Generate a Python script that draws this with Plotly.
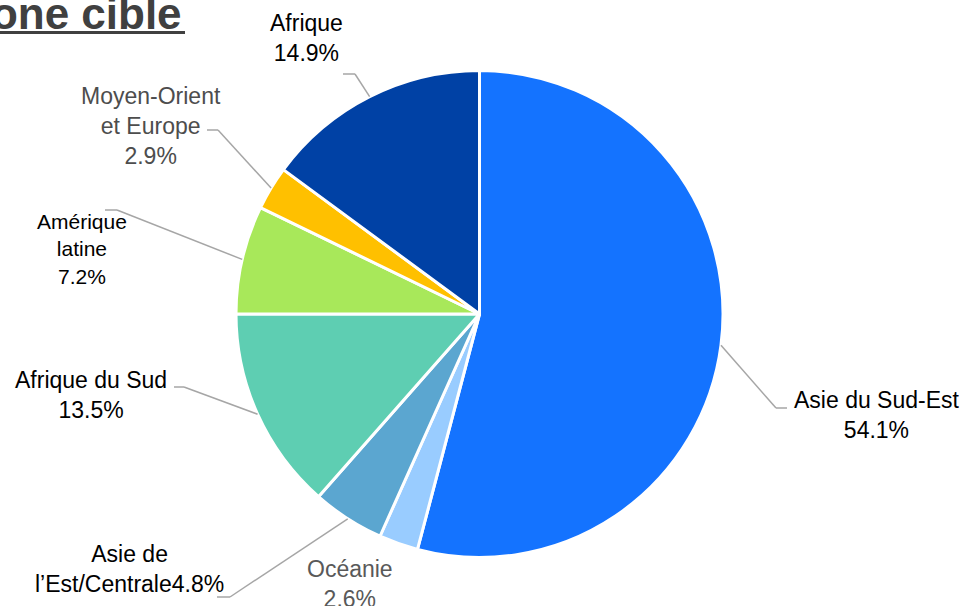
import math
import plotly.graph_objects as go

# ---- data ----
regions = ["Asie du Sud-Est", "Océanie", "Asie de l’Est/Centrale", "Afrique du Sud",
           "Amérique latine", "Moyen-Orient et Europe", "Afrique"]
shares = [54.1, 2.6, 4.8, 13.5, 7.2, 2.9, 14.9]
label_texts = ["Asie du Sud-Est<br>54.1%", "Océanie<br>2.6%", "Asie de<br>l’Est/Centrale4.8%",
               "Afrique du Sud<br>13.5%", "Amérique<br>latine<br>7.2%",
               "Moyen-Orient<br>et Europe<br>2.9%", "Afrique<br>14.9%"]
colors = ["#1473FF", "#99CCFF", "#5BA6D0", "#5ECEB2", "#A8E85A", "#FFC000", "#0041A5"]
title_text = "Zone cible"

# ---- layout (pixels) ----
W, H = 971, 606
CX, CY, R = 479.5, 314.0, 243.5

def px(x):
    return x / W

def py(y):
    return 1 - y / H

# label centre, font size, colour, leader elbow & end (pixels) per slice
label_pos = [(877, 415), (350, 584), (129, 569), (90.5, 395), (81.5, 249), (150.5, 126), (306.5, 38)]
label_size = [23, 23, 23, 23, 21, 23, 23]
label_color = ["#000000", "#595959", "#000000", "#000000", "#000000", "#4d4d4d", "#000000"]
leaders = [((776, 408), (787, 408)), None, ((230, 597), (217, 597)), ((184, 387), (174, 387)),
           ((117, 210), (105, 210)), ((218, 130), (207, 130)), ((355, 74), (343, 74))]

fig = go.Figure(go.Pie(
    labels=regions, values=shares, sort=False, direction="clockwise", rotation=0,
    marker=dict(colors=colors, line=dict(color="white", width=3)),
    textinfo="none", hoverinfo="label+percent", showlegend=False,
    domain=dict(x=[px(CX - R), px(CX + R)], y=[py(CY + R), py(CY - R)]),
))

annotations = []
shapes = []
total = sum(shares)
cum = 0.0
for i, v in enumerate(shares):
    mid = 2 * math.pi * (cum + v / 2) / total
    cum += v
    sx = CX + R * math.sin(mid)
    sy = CY - R * math.cos(mid)
    if leaders[i] is not None:
        (ex, ey), (tx, ty) = leaders[i]
        for (x0, y0, x1, y1) in [(sx, sy, ex, ey), (ex, ey, tx, ty)]:
            shapes.append(dict(type="line", xref="paper", yref="paper",
                               x0=px(x0), y0=py(y0), x1=px(x1), y1=py(y1),
                               line=dict(color="#A6A6A6", width=1.5)))
    lx, ly = label_pos[i]
    annotations.append(dict(x=px(lx), y=py(ly), xref="paper", yref="paper",
                            text=label_texts[i], showarrow=False, align="center",
                            xanchor="center", yanchor="middle",
                            font=dict(family="Liberation Sans, Arial, sans-serif",
                                      size=label_size[i], color=label_color[i])))

# title (partly cut off at the left edge as in the reference)
annotations.append(dict(x=px(184), y=py(14), xref="paper", yref="paper",
                        text="<b>" + title_text + "</b>", showarrow=False,
                        xanchor="right", yanchor="middle",
                        font=dict(family="Liberation Sans, Arial, sans-serif", size=44, color="#404040")))
shapes.append(dict(type="line", xref="paper", yref="paper",
                   x0=px(-20), y0=py(32.5), x1=px(185), y1=py(32.5),
                   line=dict(color="#404040", width=3)))

fig.update_layout(
    width=W, height=H, margin=dict(l=0, r=0, t=0, b=0),
    paper_bgcolor="white", plot_bgcolor="white",
    annotations=annotations, shapes=shapes,
)

fig.write_html("out.html", config={"displayModeBar": False},
               post_script="document.body.style.margin='0';document.body.style.overflow='hidden';")
